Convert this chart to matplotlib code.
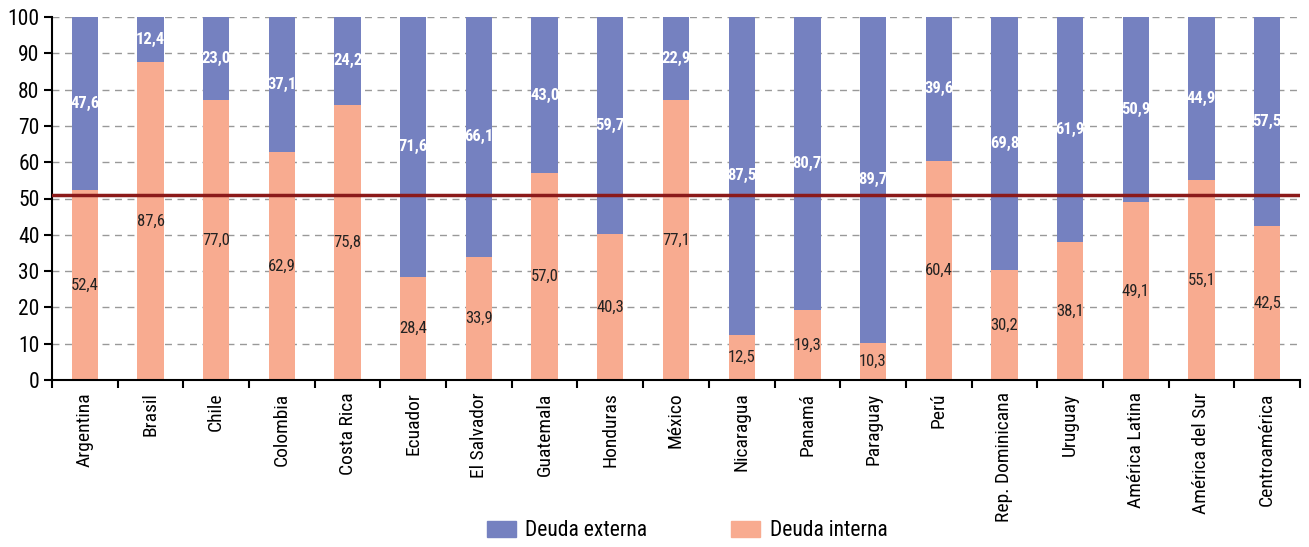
import matplotlib
matplotlib.use("Agg")
import matplotlib.pyplot as plt
import numpy as np
from matplotlib.patches import Patch

plt.rcParams['font.family'] = ['DejaVu Sans Condensed', 'Liberation Sans Narrow', 'Roboto Condensed', 'Roboto']
plt.rcParams['font.stretch'] = 'condensed'

categories = ["Argentina", "Brasil", "Chile", "Colombia", "Costa Rica", "Ecuador",
              "El Salvador", "Guatemala", "Honduras", "México", "Nicaragua", "Panamá",
              "Paraguay", "Perú", "Rep. Dominicana", "Uruguay", "América Latina",
              "América del Sur", "Centroamérica"]
interna = [52.4, 87.6, 77.0, 62.9, 75.8, 28.4, 33.9, 57.0, 40.3, 77.1, 12.5, 19.3,
           10.3, 60.4, 30.2, 38.1, 49.1, 55.1, 42.5]
externa = [47.6, 12.4, 23.0, 37.1, 24.2, 71.6, 66.1, 43.0, 59.7, 22.9, 87.5, 80.7,
           89.7, 39.6, 69.8, 61.9, 50.9, 44.9, 57.5]
ref_line = 51.0

c_ext = "#7581c0"
c_int = "#f8ab90"

fig = plt.figure(figsize=(13.09, 5.47), dpi=100)
ax = fig.add_axes([52/1309, 1-380/547, (1300-52)/1309, (380-17)/547])

x = np.arange(len(categories))
w = 0.4
ax.bar(x, interna, w, color=c_int, zorder=2)
ax.bar(x, externa, w, bottom=interna, color=c_ext, zorder=2)

fmt = lambda v: f"{v:.1f}".replace(".", ",")
for xi, vi, ve in zip(x, interna, externa):
    ax.text(xi, vi/2, fmt(vi), ha='center', va='center', fontsize=12, color='#222222', zorder=4)
    ax.text(xi, vi + ve/2, fmt(ve), ha='center', va='center', fontsize=12,
            color='white', fontweight='bold', zorder=4)

ax.axhline(ref_line, color='#8b1a1a', lw=2.5, zorder=3)

ax.set_xlim(-0.5, len(categories)-0.5)
ax.set_ylim(0, 100)
ax.set_yticks(np.arange(0, 101, 10))
ax.yaxis.grid(True, linestyle=(0, (5, 4)), color='#999999', lw=1, zorder=0)
ax.set_axisbelow(True)

ax.set_xticks(x)
ax.set_xticklabels(categories, rotation=90, fontsize=14)
ax.set_xticks(np.arange(-0.5, len(categories), 1), minor=True)
ax.tick_params(axis='x', which='major', length=0, pad=9)
ax.tick_params(axis='x', which='minor', length=6, width=1.5, direction='out')
ax.tick_params(axis='y', labelsize=15.5, length=6, width=1.5, direction='out', pad=3)

for s in ['top', 'right']:
    ax.spines[s].set_visible(False)
ax.spines['left'].set_linewidth(1.5)
ax.spines['bottom'].set_linewidth(1.5)

handles = [Patch(color=c_ext, label="Deuda externa"), Patch(color=c_int, label="Deuda interna")]
fig.legend(handles=handles, loc='lower center', bbox_to_anchor=(0.525, -0.025), ncol=2,
           frameon=False, fontsize=15.5, columnspacing=3.9, handlelength=1.35, handleheight=0.8,
           handletextpad=0.45)

fig.savefig("out.png", dpi=100)
